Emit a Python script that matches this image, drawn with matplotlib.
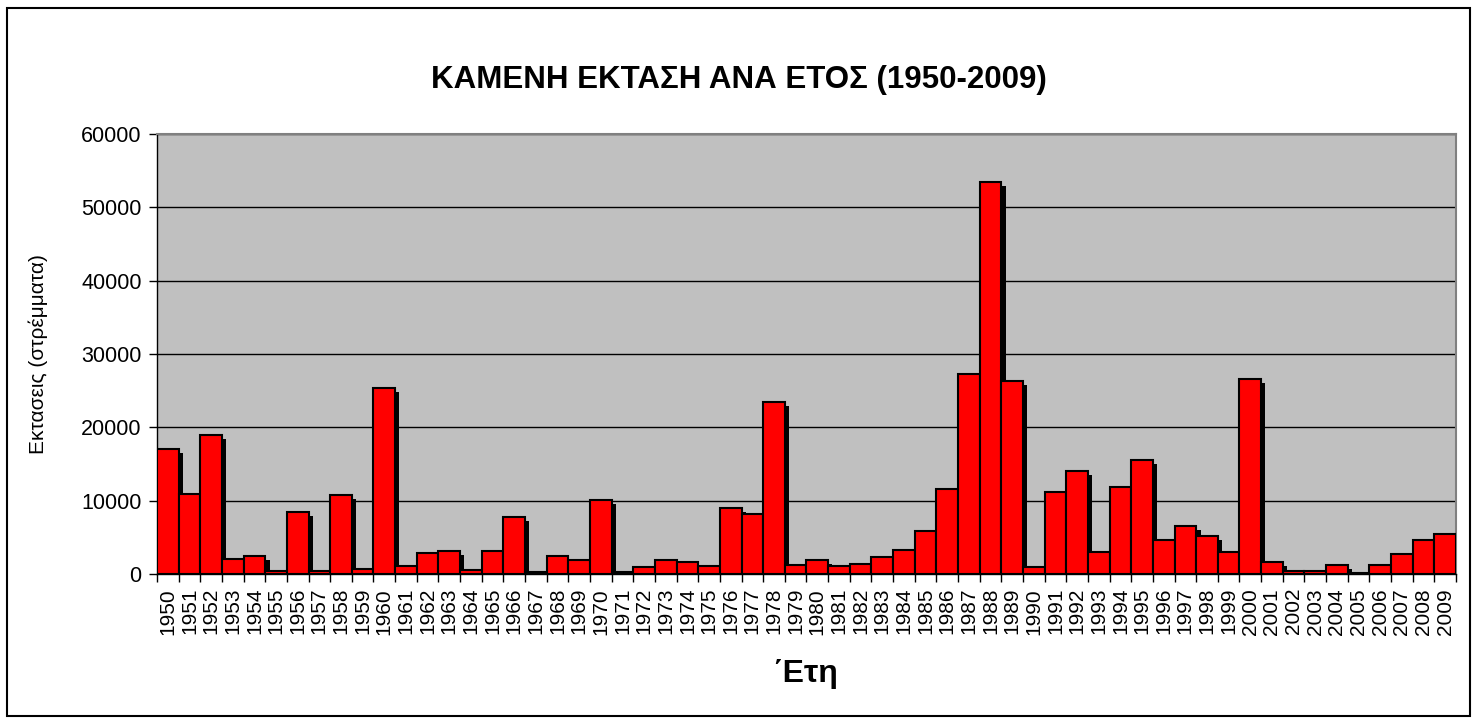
import numpy as np
import matplotlib.pyplot as plt
from matplotlib.patches import Rectangle

plt.rcParams['font.family'] = ['Liberation Sans', 'DejaVu Sans']

# burned area per year (stremmata)
years = list(range(1950, 2010))
area = [17000, 10900, 19000, 2100, 2400, 400, 8500, 400, 10800, 700,
        25300, 1100, 2800, 3200, 550, 3100, 7800, 300, 2500, 1900,
        10100, 300, 950, 1900, 1700, 1100, 8950, 8200, 23400, 1200,
        1900, 1050, 1400, 2300, 3300, 5800, 11600, 27300, 53400, 26300,
        900, 11200, 14100, 3000, 11800, 15500, 4700, 6600, 5200, 3000,
        26600, 1600, 400, 400, 1250, 200, 1200, 2700, 4600, 5500]

title = "ΚΑΜΕΝΗ ΕΚΤΑΣΗ ΑΝΑ ΕΤΟΣ (1950-2009)"
xlabel = "΄Ετη"
ylabel = "Εκτασεις (στρέμματα)"

fig = plt.figure(figsize=(14.78, 7.24), dpi=100)
ax = fig.add_axes([0.1062, 0.2072, 0.8789, 0.6077])
ax.set_facecolor('#C0C0C0')

x = np.arange(len(years))
vals = np.array(area, dtype=float)

# drop shadow behind each bar
shadow = np.clip(vals - 545, 0, None)
ax.bar(x + 0.2, shadow, width=1.0, color='black', linewidth=0, zorder=2)
ax.bar(x, vals, width=1.0, color='#FF0000', edgecolor='black', linewidth=1.5, zorder=3)

ax.set_xlim(-0.5, len(years) - 0.5)
ax.set_ylim(0, 60000)
ax.set_yticks(np.arange(0, 60001, 10000))
ax.yaxis.grid(True, color='black', linewidth=1.0, zorder=1)
ax.set_axisbelow(True)

ax.set_xticks(x)
ax.set_xticklabels([str(y) for y in years], rotation=90, fontsize=15)
ax.set_xticks(np.arange(-0.5, len(years), 1.0), minor=True)
ax.tick_params(axis='x', which='major', length=0, pad=10)
ax.tick_params(axis='x', which='minor', length=6, width=1, direction='out')
ax.tick_params(axis='y', labelsize=15.5, length=6, width=1, direction='out', pad=5)

for s in ['top', 'right']:
    ax.spines[s].set_color('#808080')
    ax.spines[s].set_linewidth(1.5)
for s in ['left', 'bottom']:
    ax.spines[s].set_color('black')
    ax.spines[s].set_linewidth(1.0)

fig.text(0.5, 0.89, title, ha='center', va='center', fontsize=22.5, fontweight='bold')
fig.text(0.545, 0.069, xlabel, ha='center', va='center', fontsize=23, fontweight='bold')
fig.text(0.026, 0.511, ylabel, ha='center', va='center', rotation=90, fontsize=15)

# outer chart frame
fig.patches.append(Rectangle((0.0047, 0.011), 0.99, 0.978, transform=fig.transFigure,
                             fill=False, edgecolor='black', linewidth=1.5))

plt.savefig('out.png', dpi=100)
